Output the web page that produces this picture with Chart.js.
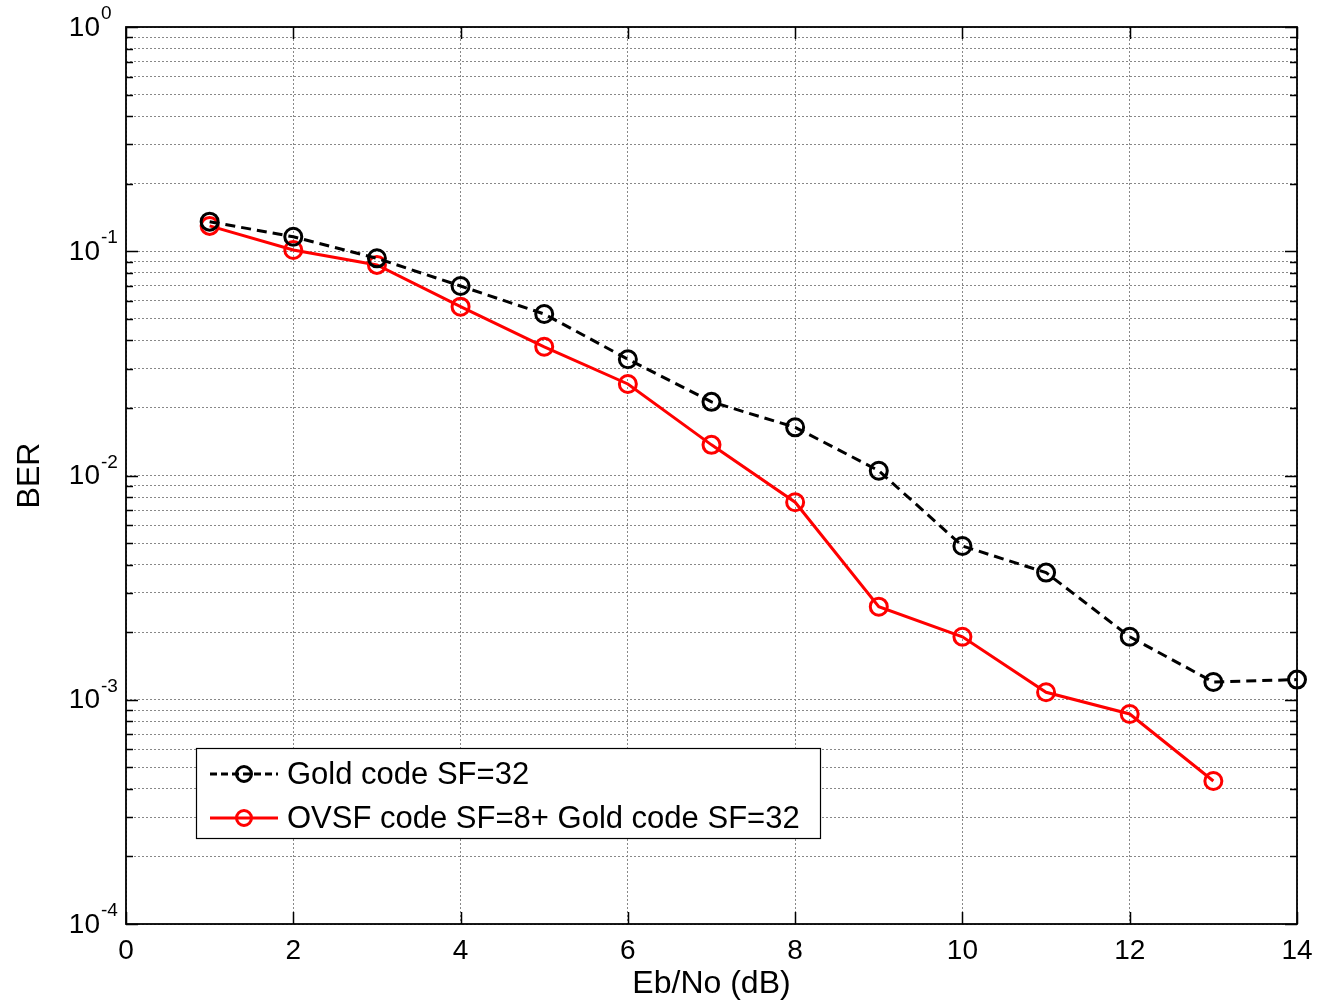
<!DOCTYPE html>
<html>
<head>
<meta charset="utf-8">
<title>BER vs Eb/No</title>
<script src="https://cdn.jsdelivr.net/npm/chart.js@4.4.1/dist/chart.umd.min.js"></script>
<style>
    html, body { margin: 0; padding: 0; background: #fff; }
    #wrap { width: 1318px; height: 1006px; position: relative; }
</style>
</head>
<body>
<div id="wrap"><canvas id="ber-chart"></canvas></div>
<script>
// Simulated bit error rate against Eb/No
var ebno = [1, 2, 3, 4, 5, 6, 7, 8, 9, 10, 11, 12, 13, 14];
var goldBer = [0.1355, 0.116, 0.093, 0.070, 0.0525, 0.033, 0.0213, 0.0164, 0.0105, 0.00485, 0.00369, 0.00191, 0.0012, 0.00123];
var ovsfBer = [0.1297, 0.1013, 0.0869, 0.0566, 0.0375, 0.0256, 0.0137, 0.0076, 0.0026, 0.00191, 0.00108, 0.000864, 0.000434];
var seriesLabels = ['Gold code SF=32', 'OVSF code SF=8+ Gold code SF=32'];
var xTicks = [0, 2, 4, 6, 8, 10, 12, 14];
var yDecades = [-4, -3, -2, -1, 0];

var FONT = "'Liberation Sans', Arial, Helvetica, sans-serif";

function toPoints(xs, ys) {
    return ys.map(function(y, i) { return { x: xs[i], y: y }; });
}

// 1..9 x 10^n ticks for every decade on the y axis
function logTicks() {
    var ticks = [];
    yDecades.forEach(function(d) {
        if (d === yDecades[yDecades.length - 1]) {
            ticks.push({ value: Math.pow(10, d), major: true });
            return;
        }
        for (var m = 1; m < 10; m++) {
            ticks.push({ value: m * Math.pow(10, d), major: m === 1 });
        }
    });
    return ticks;
}

// Axes box, inward tick marks and 10^n labels
var axesBox = {
    id: 'axesBox',
    afterDraw: function(chart) {
        var ctx = chart.ctx;
        var a = chart.chartArea;
        var xs = chart.scales.x, ys = chart.scales.y;
        ctx.save();
        ctx.strokeStyle = '#000';
        ctx.lineWidth = 1.5;
        ctx.beginPath();

        ys.ticks.forEach(function(t) {
            var py = Math.round(ys.getPixelForValue(t.value)) + 0.5;
            var len = t.major ? 12 : 7;
            ctx.moveTo(a.left, py); ctx.lineTo(a.left + len, py);
            ctx.moveTo(a.right, py); ctx.lineTo(a.right - len, py);
        });
        xs.ticks.forEach(function(t) {
            var px = Math.round(xs.getPixelForValue(t.value)) + 0.5;
            ctx.moveTo(px, a.bottom); ctx.lineTo(px, a.bottom - 12);
            ctx.moveTo(px, a.top); ctx.lineTo(px, a.top + 12);
        });
        ctx.stroke();
        ctx.lineWidth = 1.8;
        ctx.strokeRect(a.left, a.top, a.right - a.left, a.bottom - a.top);

        ctx.fillStyle = '#000';
        yDecades.forEach(function(d) {
            var py = ys.getPixelForValue(Math.pow(10, d));
            ctx.font = '28px ' + FONT;
            ctx.textAlign = 'right';
            ctx.textBaseline = 'middle';
            ctx.fillText('10', a.left - 26, py + 1);
            ctx.font = '19px ' + FONT;
            ctx.textAlign = 'left';
            ctx.textBaseline = 'alphabetic';
            ctx.fillText(String(d), a.left - 25, py - 8);
        });
        ctx.restore();
    }
};

// Boxed legend in the lower left of the plot
var legendBox = {
    id: 'legendBox',
    afterDraw: function(chart) {
        var ctx = chart.ctx;
        var a = chart.chartArea;
        var left = a.left + 70, top = a.bottom - 176, w = 624, h = 90;
        ctx.save();
        ctx.fillStyle = '#fff';
        ctx.fillRect(left, top, w, h);
        ctx.strokeStyle = '#000';
        ctx.lineWidth = 1.2;
        ctx.strokeRect(left + 0.5, top + 0.5, w, h);

        chart.data.datasets.forEach(function(ds, i) {
            var cy = top + 26 + i * 44;
            ctx.strokeStyle = ds.borderColor;
            ctx.lineWidth = ds.borderWidth;
            ctx.setLineDash(ds.borderDash ? [7, 4] : []);
            ctx.beginPath();
            ctx.moveTo(left + 14, cy);
            ctx.lineTo(left + 82, cy);
            ctx.stroke();
            ctx.setLineDash([]);
            ctx.beginPath();
            ctx.arc(left + 48, cy, 7.5, 0, Math.PI * 2);
            ctx.stroke();

            ctx.fillStyle = '#000';
            ctx.font = '31px ' + FONT;
            ctx.textAlign = 'left';
            ctx.textBaseline = 'middle';
            ctx.fillText(ds.label, left + 91, cy + 1);
        });
        ctx.restore();
    }
};

var gridStyle = { color: '#888888', lineWidth: 1, drawTicks: false };

new Chart(document.getElementById('ber-chart'), {
    type: 'line',
    data: {
        datasets: [{
            label: seriesLabels[0],
            data: toPoints(ebno, goldBer),
            borderColor: '#000000',
            borderWidth: 3,
            borderDash: [10, 6],
            pointRadius: 8.5,
            pointBorderWidth: 3,
            pointBorderColor: '#000000',
            pointBackgroundColor: 'rgba(0,0,0,0)',
            pointHoverRadius: 8.5,
            tension: 0,
            clip: false
        }, {
            label: seriesLabels[1],
            data: toPoints(ebno, ovsfBer),
            borderColor: '#ff0000',
            borderWidth: 3,
            pointRadius: 8.5,
            pointBorderWidth: 3,
            pointBorderColor: '#ff0000',
            pointBackgroundColor: 'rgba(0,0,0,0)',
            pointHoverRadius: 8.5,
            tension: 0,
            clip: false
        }]
    },
    options: {
        responsive: true,
        maintainAspectRatio: false,
        animation: false,
        events: [],
        layout: { padding: { top: 27, right: 21, bottom: 0, left: 0 } },
        plugins: {
            legend: { display: false },
            tooltip: { enabled: false }
        },
        scales: {
            x: {
                type: 'linear',
                min: 0,
                max: 14,
                afterBuildTicks: function(scale) {
                    scale.ticks = xTicks.map(function(v) { return { value: v }; });
                },
                afterFit: function(scale) {
                    scale.height = 82;
                    scale.paddingLeft = 0;
                    scale.paddingRight = 0;
                },
                grid: gridStyle,
                border: { display: false, dash: [2, 2] },
                ticks: {
                    autoSkip: false,
                    maxRotation: 0,
                    padding: 10,
                    color: '#000',
                    font: { family: FONT, size: 28 }
                },
                title: {
                    display: true,
                    text: 'Eb/No (dB)',
                    color: '#000',
                    font: { family: FONT, size: 32 },
                    padding: { top: 0, bottom: 3 }
                }
            },
            y: {
                type: 'logarithmic',
                min: 1e-4,
                max: 1,
                afterBuildTicks: function(scale) { scale.ticks = logTicks(); },
                afterFit: function(scale) { scale.width = 126; },
                grid: gridStyle,
                border: { display: false, dash: [2, 2] },
                ticks: {
                    autoSkip: false,
                    callback: function() { return ''; }
                },
                title: {
                    display: true,
                    text: 'BER',
                    color: '#000',
                    font: { family: FONT, size: 32 },
                    padding: { top: 11, bottom: 0 }
                }
            }
        }
    },
    plugins: [axesBox, legendBox]
});
</script>
</body>
</html>
